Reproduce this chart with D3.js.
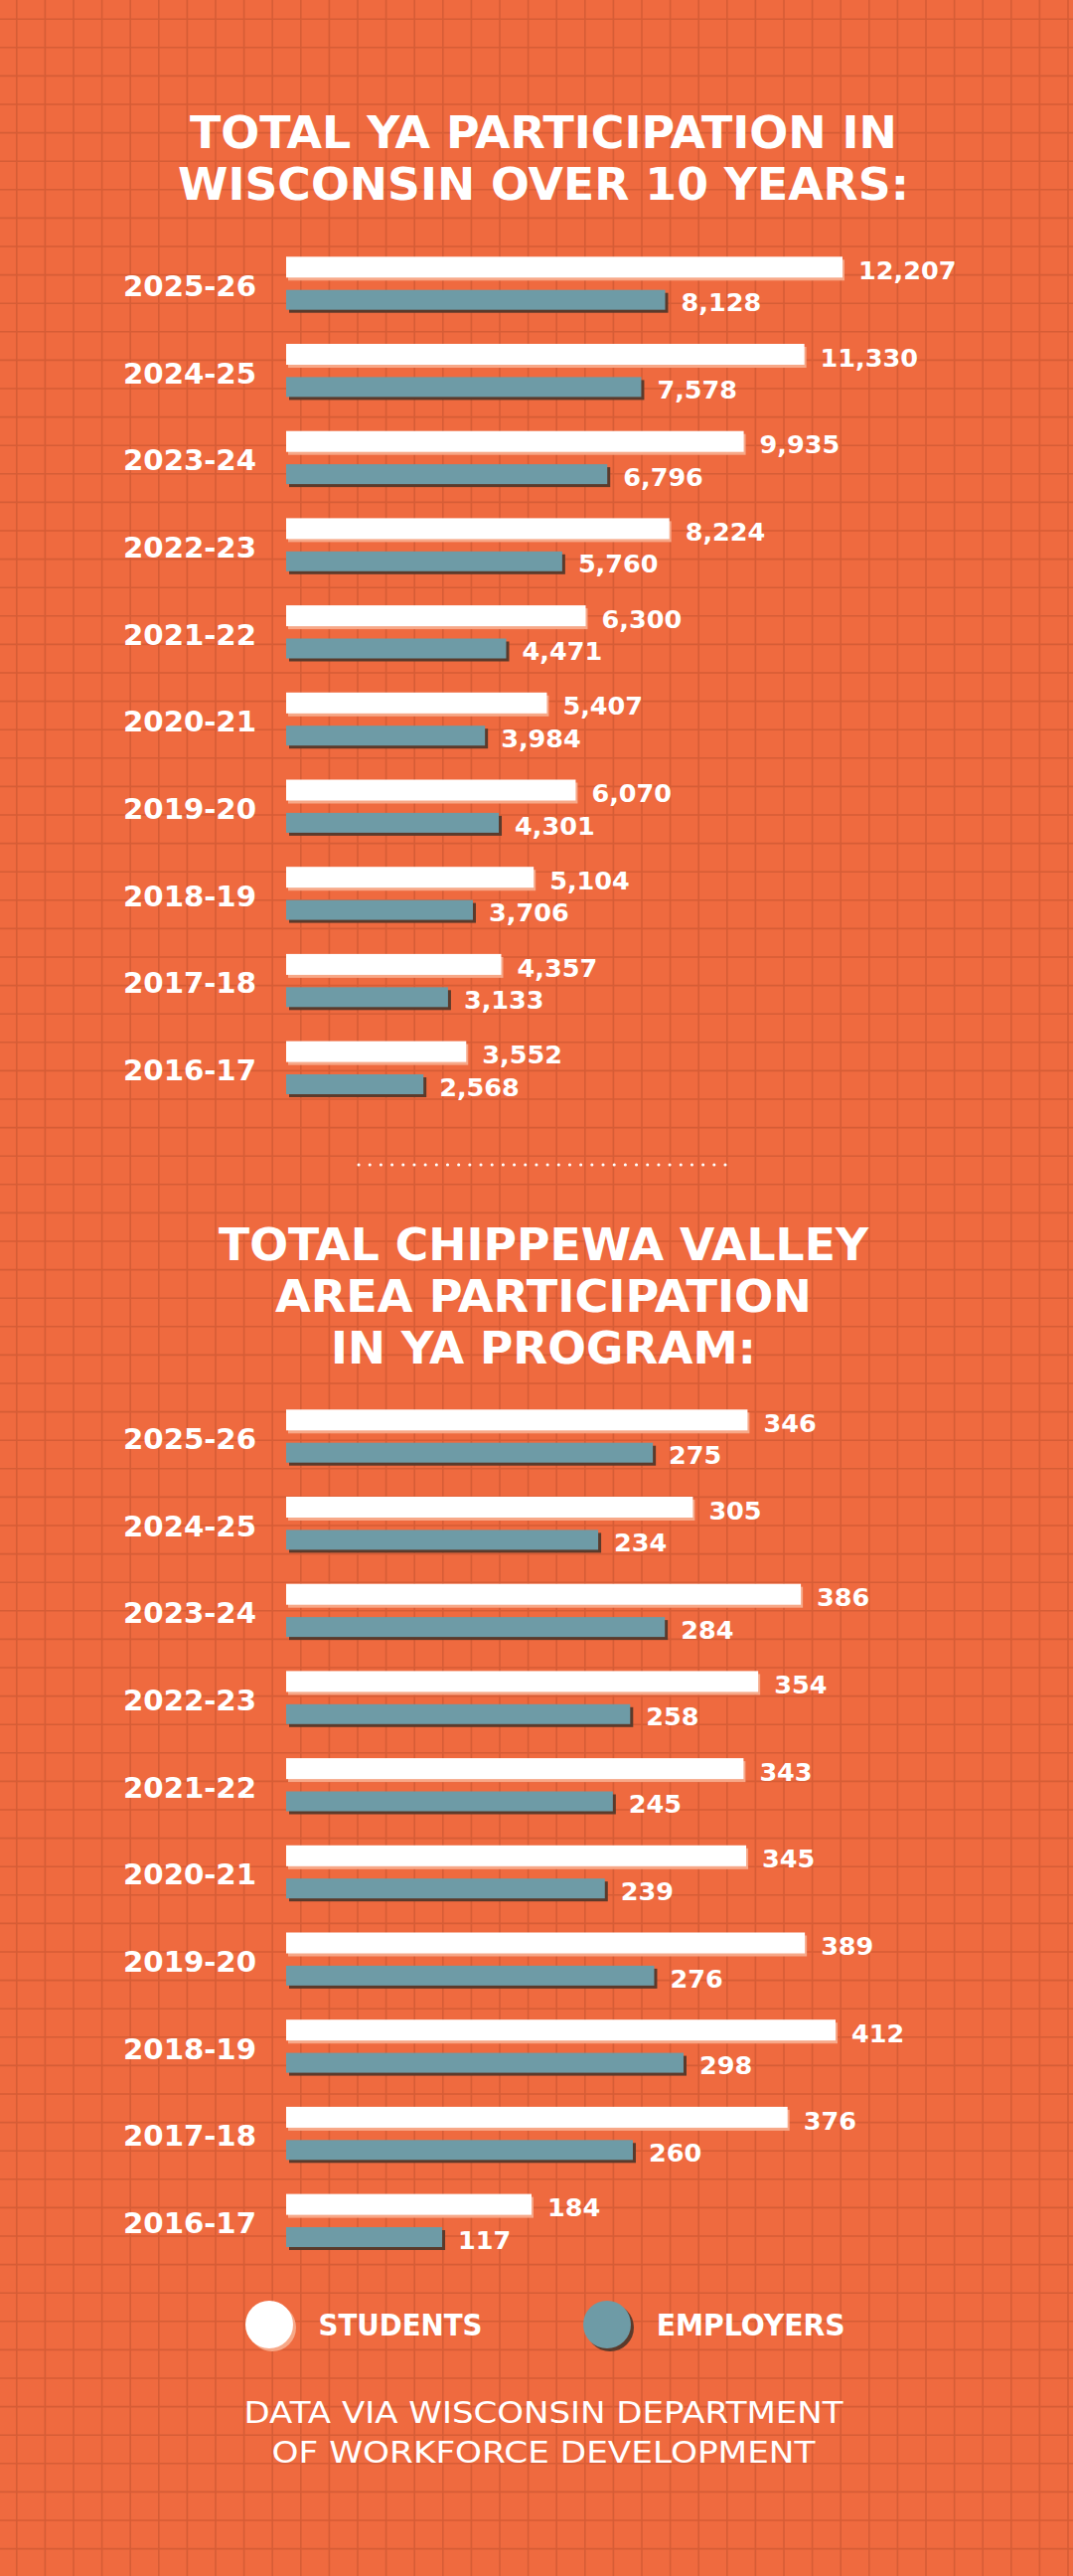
<!DOCTYPE html>
<html>
<head>
<meta charset="utf-8">
<script src="https://cdn.jsdelivr.net/npm/d3@7"></script>
<style>
  html, body { margin: 0; padding: 0; background: #ef6a3f; }
  svg { display: block; }
</style>
</head>
<body>
<svg id="chart" width="1080" height="2592"></svg>
<script>
// ---------- DATA ----------
const years = ["2025-26","2024-25","2023-24","2022-23","2021-22","2020-21","2019-20","2018-19","2017-18","2016-17"];
const wiStudents  = [12207, 11330, 9935, 8224, 6300, 5407, 6070, 5104, 4357, 3552];
const wiEmployers = [8128, 7578, 6796, 5760, 4471, 3984, 4301, 3706, 3133, 2568];
const cvStudents  = [346, 305, 386, 354, 343, 345, 389, 412, 376, 184];
const cvEmployers = [275, 234, 284, 258, 245, 239, 276, 298, 260, 117];
const title1 = ["TOTAL YA PARTICIPATION IN", "WISCONSIN OVER 10 YEARS:"];
const title2 = ["TOTAL CHIPPEWA VALLEY", "AREA PARTICIPATION", "IN YA PROGRAM:"];
const legendLabels = ["STUDENTS", "EMPLOYERS"];
const footer = ["DATA VIA WISCONSIN DEPARTMENT", "OF WORKFORCE DEVELOPMENT"];

// ---------- STYLE ----------
const W = 1080, H = 2592;
const BG = "#ef6a3f", GRID = "#d65d36";
const WHITE = "#ffffff", TEAL = "#6e9ba6";
const WHITE_SH = "#f7a888", TEAL_SH = "#5b3a2b";
const CX = 547;

const svg = d3.select("#chart");
svg.append("rect").attr("width", W).attr("height", H).attr("fill", BG);

// grid
const gStep = 28.6;
const g = svg.append("g").attr("stroke", GRID).attr("stroke-width", 1.6);
g.selectAll("line.v").data(d3.range(16.8, W, gStep)).join("line")
  .attr("x1", d => d).attr("x2", d => d).attr("y1", 0).attr("y2", H);
g.selectAll("line.h").data(d3.range(19.2, H, gStep)).join("line")
  .attr("y1", d => d).attr("y2", d => d).attr("x1", 0).attr("x2", W);

// titles
function drawTitle(lines, baselines, widths, size) {
  svg.append("g").selectAll("text").data(lines).join("text")
    .attr("x", CX).attr("y", (d, i) => baselines[i])
    .attr("text-anchor", "middle")
    .attr("textLength", (d, i) => widths[i])
    .attr("lengthAdjust", "spacingAndGlyphs")
    .attr("font-family", "'DejaVu Sans Condensed', 'DejaVu Sans', sans-serif")
    .attr("font-weight", "bold")
    .attr("font-size", size)
    .attr("fill", WHITE)
    .text(d => d);
}
drawTitle(title1, [148.5, 200.5], [712, 736], 44.5);
drawTitle(title2, [1268, 1320, 1372], [654, 540, 428], 44.5);

// bar chart
function drawChart(top, xScale, students, employers) {
  const y = d3.scaleBand().domain(years).range([top, top + 87.7 * years.length]).paddingInner(0);
  const x0 = xScale.range()[0];
  const rows = svg.append("g").selectAll("g").data(years).join("g")
    .attr("transform", d => `translate(0,${y(d)})`);

  rows.append("text")
    .attr("x", 258).attr("y", 39.5)
    .attr("text-anchor", "end")
    .attr("textLength", 134).attr("lengthAdjust", "spacingAndGlyphs")
    .attr("font-family", "'DejaVu Sans', sans-serif")
    .attr("font-weight", "bold").attr("font-size", 29)
    .attr("fill", WHITE).text(d => d);

  // student bars
  rows.append("rect").attr("x", x0 + 2).attr("y", 3)
    .attr("width", (d, i) => xScale(students[i]) - x0).attr("height", 21)
    .attr("fill", WHITE_SH);
  rows.append("rect").attr("x", x0).attr("y", 0)
    .attr("width", (d, i) => xScale(students[i]) - x0).attr("height", 21)
    .attr("fill", WHITE);
  // employer bars
  rows.append("rect").attr("x", x0 + 3).attr("y", 33.4 + 3)
    .attr("width", (d, i) => xScale(employers[i]) - x0).attr("height", 20)
    .attr("fill", TEAL_SH);
  rows.append("rect").attr("x", x0).attr("y", 33.4)
    .attr("width", (d, i) => xScale(employers[i]) - x0).attr("height", 20)
    .attr("fill", TEAL);

  const fmt = d3.format(",");
  const valText = (sel) => sel
    .attr("font-family", "'DejaVu Sans', sans-serif")
    .attr("font-weight", "bold").attr("font-size", 25.5)
    .attr("fill", WHITE);
  rows.append("text").call(valText)
    .attr("x", (d, i) => xScale(students[i]) + 16).attr("y", 22.6)
    .text((d, i) => fmt(students[i]));
  rows.append("text").call(valText)
    .attr("x", (d, i) => xScale(employers[i]) + 16).attr("y", 55)
    .text((d, i) => fmt(employers[i]));
}

const x1 = d3.scaleLinear().domain([-590, 12207]).range([288, 848]);
const x2 = d3.scaleLinear().domain([0, 412]).range([288, 841]);
drawChart(258.3, x1, wiStudents, wiEmployers);
drawChart(1418.3, x2, cvStudents, cvEmployers);

// separator
svg.append("line").attr("x1", 361).attr("x2", 738).attr("y1", 1172).attr("y2", 1172)
  .attr("stroke", WHITE).attr("stroke-width", 3)
  .attr("stroke-linecap", "round").attr("stroke-dasharray", "0.1 11.08");

// legend
const legend = [
  { label: legendLabels[0], cx: 271, tx: 320.5, tw: 165, fill: WHITE, sh: WHITE_SH },
  { label: legendLabels[1], cx: 611, tx: 660.7, tw: 190, fill: TEAL, sh: TEAL_SH }
];
const lg = svg.append("g").selectAll("g").data(legend).join("g");
lg.append("circle").attr("cx", d => d.cx + 3).attr("cy", 2342).attr("r", 24).attr("fill", d => d.sh);
lg.append("circle").attr("cx", d => d.cx).attr("cy", 2339).attr("r", 24).attr("fill", d => d.fill);
lg.append("text").attr("x", d => d.tx).attr("y", 2349.5)
  .attr("textLength", d => d.tw).attr("lengthAdjust", "spacingAndGlyphs")
  .attr("font-family", "'DejaVu Sans', sans-serif")
  .attr("font-weight", "bold").attr("font-size", 30)
  .attr("fill", WHITE).text(d => d.label);

// footer
svg.append("g").selectAll("text").data(footer).join("text")
  .attr("x", CX).attr("y", (d, i) => [2438, 2477.5][i])
  .attr("text-anchor", "middle")
  .attr("textLength", (d, i) => [603, 547][i]).attr("lengthAdjust", "spacingAndGlyphs")
  .attr("font-family", "'DejaVu Sans', sans-serif")
  .attr("font-weight", "normal").attr("font-size", 30)
  .attr("fill", WHITE).text(d => d);
</script>
</body>
</html>
